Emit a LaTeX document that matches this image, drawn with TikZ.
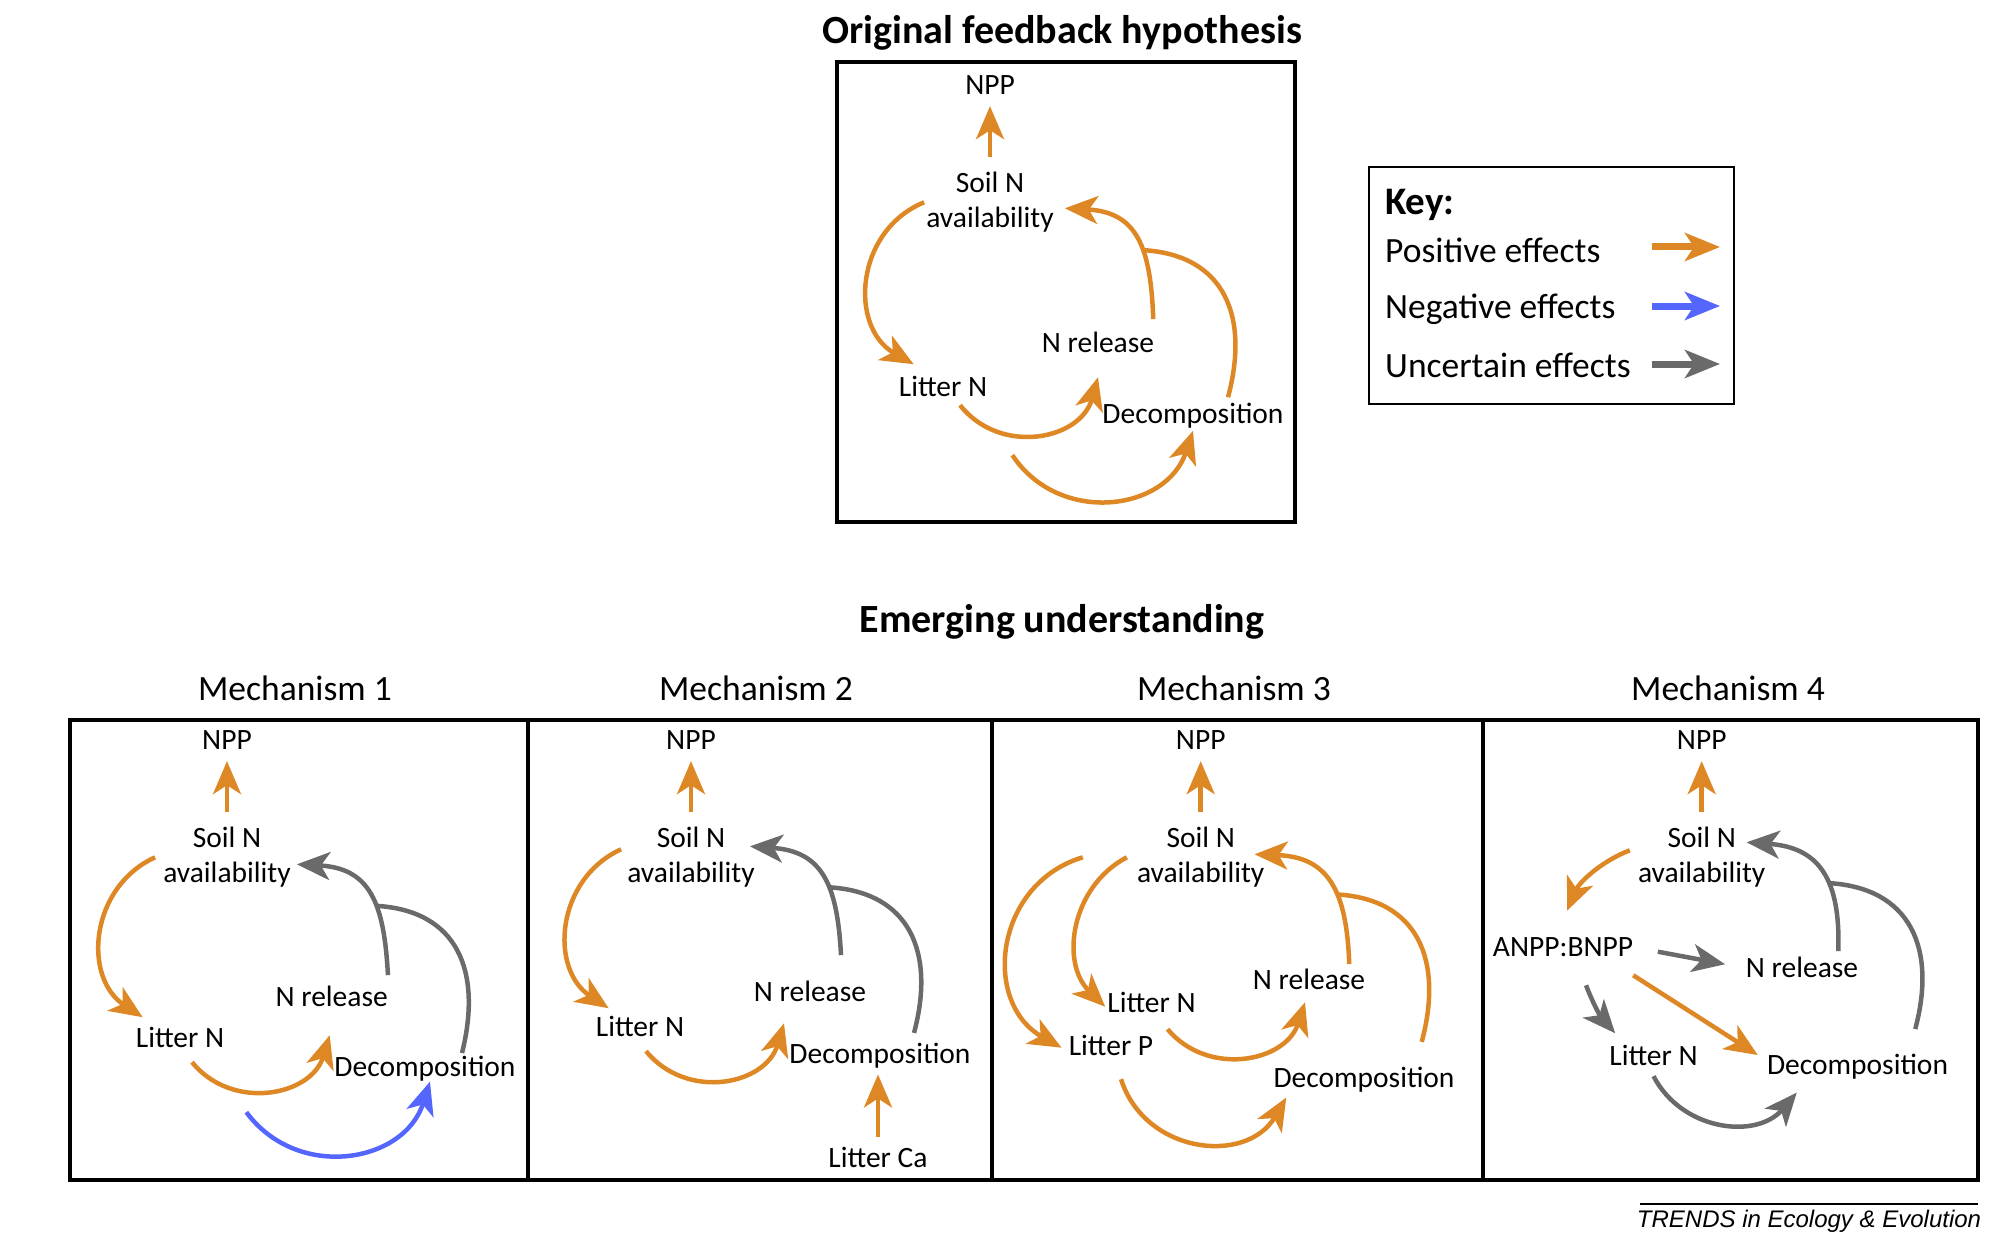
\documentclass[tikz,border=0pt]{standalone}
\usepackage{fontspec}
\setmainfont{Carlito}
\newfontfamily\trendsfont{Liberation Sans}
\usetikzlibrary{arrows.meta}
\definecolor{poscol}{RGB}{221,136,36}
\definecolor{negcol}{RGB}{85,102,255}
\definecolor{unccol}{RGB}{106,106,106}
\tikzset{
    lbl/.style={font=\fontsize{29.5}{35}\selectfont,inner sep=2pt,align=center},
    head/.style={font=\bfseries\fontsize{40}{44}\selectfont,inner sep=0pt,anchor=base},
    mech/.style={font=\fontsize{35.5}{40}\selectfont,inner sep=0pt,anchor=base},
    keytxt/.style={font=\fontsize{35.5}{40}\selectfont,inner sep=0pt,anchor=base west},
    effect/.style={line width=4.5pt,-{Stealth[length=33pt,width=28pt,inset=9pt]}},
    posarr/.style={effect,draw=poscol},
    negarr/.style={effect,draw=negcol},
    uncarr/.style={effect,draw=unccol},
    posline/.style={line width=4.5pt,draw=poscol},
    uncline/.style={line width=4.5pt,draw=unccol},
    keyarr/.style={line width=7pt,-{Stealth[length=35pt,width=28pt,inset=9pt]}},
    frame/.style={line width=4pt}
}
\begin{document}
\begin{tikzpicture}[x=1pt,y=1pt,every node/.style={black}]
    \useasboundingbox (0,0) rectangle (2012,-1241);

    % titles
    \node[head] (titleT) at (1062,-44) {Original feedback hypothesis};
    \node[head] (titleE) at (1062,-632) {Emerging understanding};
    \node[mech] (mechA) at (295,-700) {Mechanism 1};
    \node[mech] (mechB) at (756,-700) {Mechanism 2};
    \node[mech] (mechC) at (1234,-700) {Mechanism 3};
    \node[mech] (mechD) at (1728,-700) {Mechanism 4};

    % frames
    \draw[frame] (837,-62) rectangle (1295,-522);
    \draw[frame] (70,-720) rectangle (528,-1180);
    \draw[frame] (528,-720) rectangle (992,-1180);
    \draw[frame] (992,-720) rectangle (1483,-1180);
    \draw[frame] (1483,-720) rectangle (1978,-1180);

    % key
    \draw[line width=2.5pt] (1369,-167) rectangle (1734,-404);
    \node[keytxt,font=\bfseries\fontsize{39}{44}\selectfont] (keyT) at (1385,-215) {Key:};
    \node[keytxt] (keyP) at (1385,-262) {Positive effects};
    \node[keytxt] (keyN) at (1385,-318) {Negative effects};
    \node[keytxt] (keyU) at (1385,-377) {Uncertain effects};
    \coordinate (kp0) at (1652,-247);
    \coordinate (kp1) at (1720,-247);
    \coordinate (kn0) at (1652,-306);
    \coordinate (kn1) at (1720,-306);
    \coordinate (ku0) at (1652,-364);
    \coordinate (ku1) at (1720,-364);
    \draw[keyarr,draw=poscol] (kp0) -- (kp1);
    \draw[keyarr,draw=negcol] (kn0) -- (kn1);
    \draw[keyarr,draw=unccol] (ku0) -- (ku1);

    % original hypothesis
    \node[lbl] (nppT) at (990,-85.5) {NPP};
    \node[lbl] (soilT) at (990,-202.3) {Soil N\\availability};
    \node[lbl] (litT) at (943,-386.7) {Litter N};
    \node[lbl] (nrelT) at (1098,-342.7) {N release};
    \node[lbl] (decT) at (1193,-416) {Decomposition};
    \draw[posarr,shorten <=13pt,shorten >=9pt] (soilT.north) -- (nppT.south);
    \draw[posarr] (soilT.west) to[bend right=64,looseness=1.18] ([shift={(17,10)}]litT.north west);
    \draw[posarr] ([shift={(17,-6)}]litT.south) to[bend right=63,looseness=1.18] ([yshift=-22pt]nrelT.south);
    \draw[posarr] ([shift={(-3,11)}]nrelT.north east) to[out=92,in=-3,looseness=1.3] coordinate[pos=0.4] (jT) ([shift={(9,-6)}]soilT.east);
    \draw[posline] ([shift={(35,4)}]decT.north) to[out=75,in=-3,looseness=1.25] (jT);
    \draw[posarr] ([shift={(23,-56)}]litT.south east) to[bend right=64,looseness=1.19] (decT.south);

    % mechanism 1
    \node[lbl] (npp1) at (227,-740.5) {NPP};
    \node[lbl] (soil1) at (227,-857.3) {Soil N\\availability};
    \node[lbl] (lit1) at (180,-1037.7) {Litter N};
    \node[lbl] (nrel1) at (331.7,-996.7) {N release};
    \node[lbl] (dec1) at (425,-1068.8) {Decomposition};
    \draw[posarr,shorten <=13pt,shorten >=9pt] (soil1.north) -- (npp1.south);
    \draw[posarr] ([xshift=-6pt]soil1.west) to[bend right=61,looseness=1.15] ([shift={(9,8)}]lit1.north west);
    \draw[posarr] ([shift={(12,-12)}]lit1.south) to[bend right=62,looseness=1.16] ([shift={(-2,-26)}]nrel1.south);
    \draw[uncarr] ([shift={(-2,9)}]nrel1.north east) to[out=93,in=-3,looseness=1.3] coordinate[pos=0.4] (j1) ([shift={(4,-7)}]soil1.east);
    \draw[uncline] ([shift={(37,1)}]dec1.north) to[out=76,in=-3,looseness=1.25] (j1);
    \draw[negarr] ([shift={(20,-62)}]lit1.south east) to[bend right=63,looseness=1.18] ([shift={(5,2)}]dec1.south);

    % mechanism 2
    \node[lbl] (npp2) at (691,-740.5) {NPP};
    \node[lbl] (soil2) at (691,-857.3) {Soil N\\availability};
    \node[lbl] (lit2) at (640,-1026.7) {Litter N};
    \node[lbl] (nrel2) at (810,-991.7) {N release};
    \node[lbl] (dec2) at (880,-1055.7) {Decomposition};
    \node[lbl] (litca2) at (878,-1157.7) {Litter Ca};
    \draw[posarr,shorten <=13pt,shorten >=9pt] (soil2.north) -- (npp2.south);
    \draw[posarr] ([shift={(-4,8)}]soil2.west) to[bend right=61,looseness=1.15] ([shift={(15,6)}]lit2.north west);
    \draw[posarr] ([shift={(6,-12)}]lit2.south) to[bend right=62,looseness=1.17] ([shift={(-26,-19)}]nrel2.south);
    \draw[uncarr] ([shift={(31,24)}]nrel2.north) to[out=93,in=-4,looseness=1.3] coordinate[pos=0.4] (j2) ([shift={(-7,11)}]soil2.east);
    \draw[uncline] ([shift={(34,8)}]dec2.north) to[out=75,in=-3,looseness=1.25] (j2);
    \draw[posarr,shorten <=8pt,shorten >=4pt] (litca2.north) -- (litca2.north |- dec2.south);

    % mechanism 3
    \node[lbl] (npp3) at (1200.7,-740.5) {NPP};
    \node[lbl] (soil3) at (1200.7,-857.3) {Soil N\\availability};
    \node[lbl] (litN3) at (1151.5,-1002.7) {Litter N};
    \node[lbl] (litP3) at (1111,-1045.7) {Litter P};
    \node[lbl] (nrel3) at (1309,-979.7) {N release};
    \node[lbl] (dec3) at (1364,-1079.7) {Decomposition};
    \draw[posarr,shorten <=13pt,shorten >=9pt] (soil3.north) -- (npp3.south);
    \draw[posarr] ([xshift=-52pt]soil3.west) to[bend right=67,looseness=1.23] ([shift={(-5,-2)}]litP3.west);
    \draw[posarr] ([xshift=-8pt]soil3.west) to[bend right=54,looseness=1.07] ([yshift=-4pt]litN3.west);
    \draw[posarr] ([shift={(16,-14)}]litN3.south) to[bend right=61,looseness=1.15] ([shift={(-4,-10)}]nrel3.south);
    \draw[posarr] ([shift={(10,-21)}]litP3.south) to[bend right=66,looseness=1.21] ([shift={(15,-3)}]dec3.south west);
    \draw[posarr] ([shift={(-18,3)}]nrel3.north east) to[out=92,in=-2,looseness=1.3] coordinate[pos=0.4] (j3) ([shift={(-12,3)}]soil3.east);
    \draw[posline] ([shift={(-35,23)}]dec3.north east) to[out=75,in=-3,looseness=1.25] (j3);

    % mechanism 4
    \node[lbl] (npp4) at (1701.7,-740.5) {NPP};
    \node[lbl] (soil4) at (1701.7,-857.3) {Soil N\\availability};
    \node[lbl] (anpp4) at (1563,-947.5) {ANPP:BNPP};
    \node[lbl] (nrel4) at (1802,-967.7) {N release};
    \node[lbl] (litN4) at (1653.5,-1055.7) {Litter N};
    \node[lbl] (dec4) at (1857.5,-1066.8) {Decomposition};
    \draw[posarr,shorten <=13pt,shorten >=9pt] (soil4.north) -- (npp4.south);
    \draw[posarr] ([shift={(-6,7)}]soil4.west) to[bend right=23,looseness=0.9] ([shift={(4,25)}]anpp4.north);
    \draw[uncarr,shorten <=23pt,shorten >=19pt] (anpp4.east) -- (nrel4.west);
    \draw[uncarr] ([shift={(23,-26)}]anpp4.south) to[bend right=10] ([shift={(8,10)}]litN4.north west);
    \draw[posarr] ([shift={(-2,-16)}]anpp4.south east) -- ([shift={(-7,-3)}]dec4.north west);
    \draw[uncarr] ([yshift=-8pt]litN4.south) to[bend right=56,looseness=1.1] ([shift={(32,-11)}]dec4.south west);
    \draw[uncarr] ([shift={(-22,4)}]nrel4.north east) to[out=88,in=-4,looseness=1.3] coordinate[pos=0.4] (j4) ([shift={(-21,15)}]soil4.east);
    \draw[uncline] ([shift={(-35,23)}]dec4.north east) to[out=75,in=-3,looseness=1.25] (j4);

    % source line
    \draw[line width=1.2pt] (1640,-1204) -- (1978,-1204);
    \node[font=\trendsfont\itshape\fontsize{24}{26}\selectfont,inner sep=0pt,anchor=base] (trends) at (1809,-1227) {TRENDS in Ecology \& Evolution};
\end{tikzpicture}
\end{document}
